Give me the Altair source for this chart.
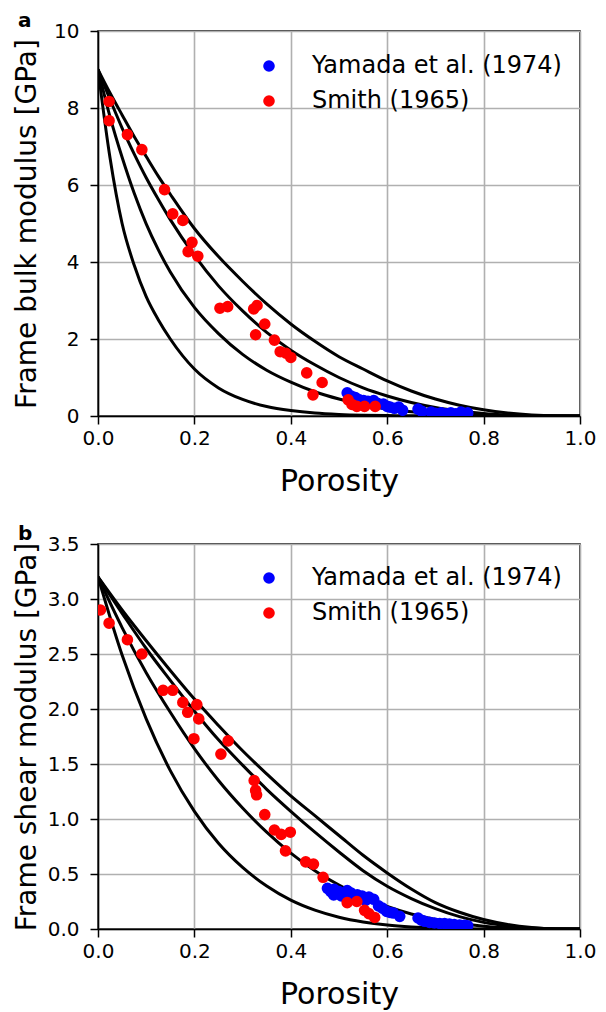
import altair as alt
import pandas as pd

FONT = "DejaVu Sans"
SERIES = ["Yamada et al. (1974)", "Smith (1965)"]
COLORS = ["#0000ff", "#ff0000"]

x_ticks = [0.0, 0.2, 0.4, 0.6, 0.8, 1.0]

# ---------------- panel a: frame bulk modulus ----------------
phi_a = [0, 0.025, 0.05, 0.075, 0.1, 0.125, 0.15, 0.2, 0.25, 0.3, 0.35, 0.4,
         0.45, 0.5, 0.55, 0.6, 0.65, 0.7, 0.75, 0.8, 0.85, 0.9, 0.95, 1.0]
k_curve1 = [9.0, 6.7, 5.0, 3.92, 3.1, 2.5, 2.0, 1.22, 0.73, 0.43, 0.245, 0.14,
            0.075, 0.04, 0.02, 0.01, 0.005, 0.002, 0.001, 0, 0, 0, 0, 0]
k_curve2 = [9.0, 7.77, 6.72, 5.79, 4.99, 4.32, 3.74, 2.82, 2.14, 1.60, 1.19, 0.88,
            0.63, 0.44, 0.29, 0.18, 0.11, 0.061, 0.031, 0.012, 0.004, 0.001, 0, 0]
k_curve3 = [9.0, 8.22, 7.48, 6.81, 6.19, 5.63, 5.10, 4.17, 3.38, 2.73, 2.17, 1.71,
            1.33, 1.00, 0.73, 0.52, 0.35, 0.22, 0.129, 0.066, 0.028, 0.008, 0.001, 0]
k_curve4 = [9.0, 8.39, 7.82, 7.26, 6.74, 6.23, 5.76, 4.87, 4.14, 3.50, 2.91, 2.39,
            1.94, 1.54, 1.22, 0.91, 0.65, 0.44, 0.28, 0.16, 0.078, 0.028, 0.005, 0]

k_yamada_phi = [0.517, 0.525, 0.534, 0.541, 0.551, 0.56, 0.572, 0.58, 0.592, 0.60,
                0.606, 0.615, 0.624, 0.632, 0.664, 0.672, 0.691, 0.70, 0.712, 0.722,
                0.732, 0.742, 0.753, 0.76, 0.767]
k_yamada = [0.60, 0.52, 0.48, 0.43, 0.40, 0.38, 0.40, 0.33, 0.31, 0.25,
            0.23, 0.20, 0.23, 0.15, 0.18, 0.12, 0.10, 0.07, 0.08, 0.06,
            0.08, 0.06, 0.10, 0.06, 0.08]
k_smith_phi = [0.023, 0.023, 0.061, 0.091, 0.138, 0.155, 0.176, 0.195, 0.187, 0.207,
               0.253, 0.269, 0.323, 0.330, 0.346, 0.327, 0.366, 0.378, 0.390, 0.400,
               0.433, 0.465, 0.446, 0.519, 0.527, 0.537, 0.553, 0.575]
k_smith = [8.17, 7.67, 7.31, 6.92, 5.88, 5.25, 5.08, 4.51, 4.27, 4.15,
           2.80, 2.84, 2.78, 2.87, 2.39, 2.11, 1.97, 1.67, 1.63, 1.52,
           1.12, 0.87, 0.55, 0.42, 0.30, 0.25, 0.25, 0.25]

# ---------------- panel b: frame shear modulus ----------------
phi_b = [0, 0.05, 0.1, 0.15, 0.2, 0.25, 0.3, 0.35, 0.4, 0.45, 0.5, 0.55, 0.6,
         0.65, 0.7, 0.75, 0.8, 0.85, 0.9, 0.95, 1.0]
g_curve1 = [3.2, 2.49, 1.91, 1.44, 1.07, 0.78, 0.56, 0.39, 0.262, 0.171, 0.107,
            0.064, 0.036, 0.019, 0.009, 0.004, 0.001, 0, 0, 0, 0]
g_curve2 = [3.2, 2.74, 2.33, 1.97, 1.64, 1.35, 1.10, 0.88, 0.69, 0.53, 0.40,
            0.29, 0.205, 0.137, 0.086, 0.050, 0.026, 0.011, 0.003, 0, 0]
g_curve3 = [3.2, 2.87, 2.55, 2.26, 1.98, 1.72, 1.49, 1.27, 1.07, 0.88, 0.70,
            0.53, 0.389, 0.277, 0.185, 0.112, 0.060, 0.028, 0.009, 0.001, 0]
g_curve4 = [3.2, 2.90, 2.62, 2.35, 2.09, 1.85, 1.62, 1.41, 1.21, 1.03, 0.85,
            0.67, 0.51, 0.364, 0.240, 0.152, 0.086, 0.041, 0.014, 0.002, 0]

g_yamada_phi = [0.476, 0.483, 0.489, 0.49, 0.50, 0.505, 0.51, 0.517, 0.524, 0.53,
                0.538, 0.548, 0.555, 0.562, 0.572, 0.582, 0.59, 0.599, 0.606, 0.613,
                0.626, 0.664, 0.671, 0.678, 0.688, 0.698, 0.709, 0.719, 0.729, 0.739,
                0.75, 0.760, 0.767]
g_yamada = [0.37, 0.34, 0.31, 0.36, 0.34, 0.30, 0.31, 0.35, 0.33, 0.29,
            0.31, 0.30, 0.26, 0.29, 0.27, 0.21, 0.19, 0.16, 0.15, 0.145,
            0.115, 0.10, 0.08, 0.07, 0.06, 0.055, 0.05, 0.05, 0.045, 0.04,
            0.035, 0.033, 0.03]
g_smith_phi = [0.005, 0.023, 0.061, 0.091, 0.135, 0.155, 0.176, 0.186, 0.205, 0.209,
               0.199, 0.270, 0.255, 0.324, 0.327, 0.329, 0.346, 0.366, 0.380, 0.399,
               0.389, 0.431, 0.447, 0.467, 0.517, 0.537, 0.553, 0.562, 0.574]
g_smith = [2.90, 2.78, 2.63, 2.50, 2.17, 2.17, 2.06, 1.97, 2.04, 1.91,
           1.73, 1.71, 1.59, 1.35, 1.26, 1.22, 1.04, 0.90, 0.86, 0.88,
           0.71, 0.61, 0.59, 0.47, 0.24, 0.25, 0.17, 0.14, 0.105]


def curves_df(grid, curves):
    rows = []
    for i, vals in enumerate(curves):
        for p, v in zip(grid, vals):
            rows.append({"phi": p, "mod": v, "curve": "c%d" % i})
    return pd.DataFrame(rows)


def points_df(bp, bv, rp, rv):
    rows = []
    for p, v in zip(bp, bv):
        rows.append({"phi": p, "mod": v, "Source": SERIES[0]})
    for p, v in zip(rp, rv):
        rows.append({"phi": p, "mod": v, "Source": SERIES[1]})
    df = pd.DataFrame(rows)
    df["ord"] = range(len(df))
    return df


def panel(cdf, pdf, ytitle, ydom, yticks, yfmt, label, h, legend_y):
    x = alt.X("phi:Q", scale=alt.Scale(domain=[0, 1], nice=False, zero=False),
              axis=alt.Axis(values=x_ticks, format=".1f", title="Porosity",
                            labelFlush=False, labelPadding=4, titlePadding=18,
                            titleFontSize=30))
    y = alt.Y("mod:Q", scale=alt.Scale(domain=ydom, nice=False),
              axis=alt.Axis(values=yticks, format=yfmt, title=ytitle,
                            labelPadding=11, minExtent=52, maxExtent=52,
                            titleFontSize=28, titlePadding=5))
    lines = alt.Chart(cdf).mark_line(
        color="black", strokeWidth=3, interpolate="monotone", clip=True
    ).encode(x=x, y=y, detail="curve:N")
    pts = alt.Chart(pdf).mark_circle(size=135, opacity=1, clip=True).encode(
        x=x, y=y,
        color=alt.Color(
            "Source:N",
            scale=alt.Scale(domain=SERIES, range=COLORS),
            legend=alt.Legend(
                title=None, orient="none", legendX=159, legendY=legend_y,
                labelFont=FONT, labelFontSize=24, labelColor="black",
                labelLimit=0,
                symbolType="circle", symbolSize=135, symbolStrokeWidth=0,
                symbolOpacity=1, labelOffset=31, rowPadding=11, padding=0,
            ),
        ),
        order=alt.Order("ord:Q"),
    )
    return alt.layer(lines, pts).properties(
        width=482, height=h,
        title=alt.TitleParams(label, anchor="start", frame="group", dx=-80,
                              fontSize=20, fontWeight="bold", font=FONT,
                              color="black", offset=-10),
    )


pa = panel(curves_df(phi_a, [k_curve1, k_curve2, k_curve3, k_curve4]),
           points_df(k_yamada_phi, k_yamada, k_smith_phi, k_smith),
           "Frame bulk modulus [GPa]", [0, 10], [0, 2, 4, 6, 8, 10], "d", "a", 385, 23)
pb = panel(curves_df(phi_b, [g_curve1, g_curve2, g_curve3, g_curve4]),
           points_df(g_yamada_phi, g_yamada, g_smith_phi, g_smith),
           "Frame shear modulus [GPa]", [0, 3.5], [0, 0.5, 1.0, 1.5, 2.0, 2.5, 3.0, 3.5],
           ".1f", "b", 385, 22)

chart = alt.vconcat(pa, pb, spacing=26).resolve_scale(color="independent").resolve_legend(
    color="independent"
).properties(
    padding={"left": 4, "top": 2, "right": 0, "bottom": 0},
    background="white",
).configure_view(
    stroke="black", strokeWidth=1.5
).configure_axis(
    labelFont=FONT, labelFontSize=20, labelColor="black",
    titleFont=FONT, titleFontWeight="normal", titleColor="black",
    domainColor="black", domainWidth=1.5, tickColor="black", tickWidth=1.5,
    tickSize=8,
    gridColor="#b0b0b0", gridWidth=1.6, gridOpacity=1,
)

chart.save("out.html", embed_options={"renderer": "svg", "actions": False})
